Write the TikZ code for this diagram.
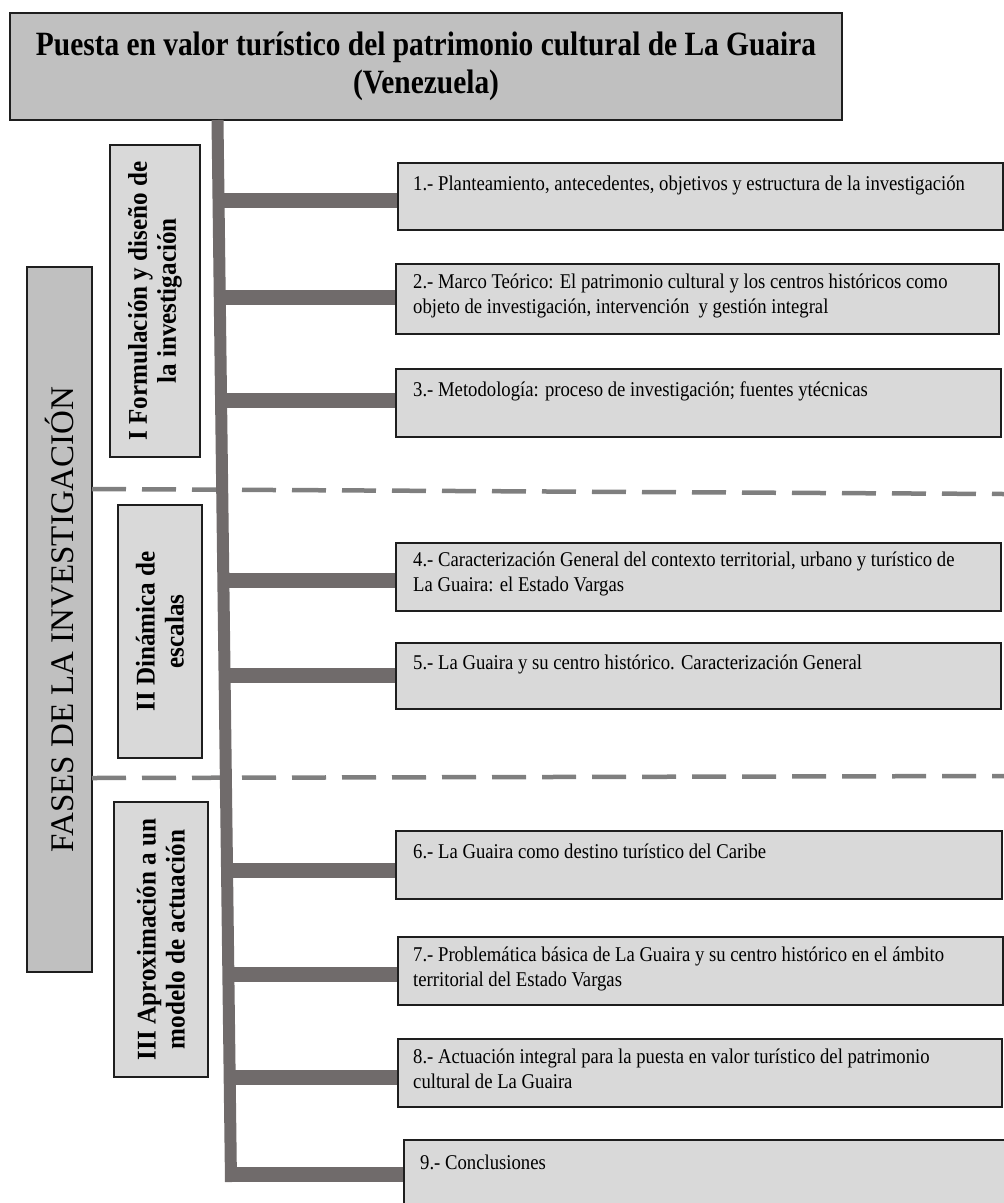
\documentclass[tikz,border=0pt]{standalone}
\usepackage{fontspec}
\setmainfont{Liberation Serif}
\newfontfamily\titlefont[FakeStretch=0.865]{Liberation Serif}
\newfontfamily\boxfont[FakeStretch=0.89]{Liberation Serif}
\newfontfamily\phasefont[FakeStretch=0.93]{Liberation Serif}
\definecolor{titlegray}{HTML}{C0C0C0}
\definecolor{boxgray}{HTML}{D9D9D9}
\definecolor{trunkgray}{HTML}{706B6B}
\definecolor{dashgray}{HTML}{7F7F7F}
\definecolor{edge}{HTML}{1E1E1E}
\tikzset{
  titlebox/.style={draw=edge, line width=2pt, fill=titlegray, minimum width=832, minimum height=107,
    inner sep=0pt, align=center, font=\titlefont\fontsize{34}{38}\selectfont\bfseries},
  fasesbox/.style={draw=edge, line width=2pt, fill=titlegray, rotate=90, inner sep=0pt,
    font=\fontsize{33}{36}\selectfont},
  phasebox/.style={draw=edge, line width=2pt, fill=boxgray, rotate=90, inner sep=0pt, align=center,
    font=\phasefont\fontsize{27}{29}\selectfont\bfseries},
  cbox/.style={draw=edge, line width=2pt, fill=boxgray, anchor=north west, inner sep=0pt},
  ctext/.style={anchor=north west, align=left, inner sep=0pt, font=\boxfont\fontsize{21}{25}\selectfont,
    execute at begin node=\strut},
  trunk/.style={draw=trunkgray, line width=12pt},
  branch/.style={draw=trunkgray, line width=15pt},
  phaseline/.style={draw=dashgray, line width=4.5pt, dash pattern=on 34pt off 16pt},
}
\begin{document}
\begin{tikzpicture}[x=1pt,y=-1pt]
\useasboundingbox (0,0) rectangle (1004,1203);
\clip (0,0) rectangle (1004,1203);

% title and phase labels
\node[titlebox] (title) at (426,66.5) {Puesta en valor turístico del patrimonio cultural de La Guaira\\(Venezuela)};
\node[fasesbox, minimum width=705, minimum height=65] (fases) at (59.5,619.5) {FASES DE LA INVESTIGACIÓN};

% dashed phase separators
\coordinate (d1a) at (92,489);
\coordinate (d1b) at (1004,494);
\coordinate (d2a) at (92,778);
\coordinate (d2b) at (1004,776);
\draw[phaseline] (d1a) -- (d1b);
\draw[phaseline] (d2a) -- (d2b);

% content boxes
\node[cbox, minimum width=605, minimum height=67] (b1) at (397,162) {};
\node[cbox, minimum width=603, minimum height=70] (b2) at (395,263) {};
\node[cbox, minimum width=605, minimum height=68] (b3) at (395,368) {};
\node[cbox, minimum width=605, minimum height=68] (b4) at (395,542) {};
\node[cbox, minimum width=605, minimum height=66] (b5) at (395,642) {};
\node[cbox, minimum width=606, minimum height=68] (b6) at (395,830) {};
\node[cbox, minimum width=605, minimum height=68] (b7) at (397,936) {};
\node[cbox, minimum width=604, minimum height=68] (b8) at (397,1038) {};
\node[cbox, minimum width=640, minimum height=120] (b9) at (403,1139) {};

% trunk and branches
\coordinate (ttop) at (217.5,120);
\coordinate (tbot) at (231,1182);
\coordinate (j1) at (218.5,200);
\coordinate (j2) at (219.8,297.5);
\coordinate (j3) at (221.1,400);
\coordinate (j4) at (223.3,580);
\coordinate (j5) at (224.6,675);
\coordinate (j6) at (227.0,870);
\coordinate (j7) at (228.4,974);
\coordinate (j8) at (229.7,1077);
\coordinate (j9) at (230.9,1174.5);
\draw[trunk] (ttop) -- (tbot);
\foreach \i in {1,...,9}{
  \draw[branch] (j\i) -- (j\i -| b\i.west);
}

% phase boxes
\node[phasebox, minimum width=312, minimum height=90] (p1) at (155,301) {I Formulación y diseño de\\la investigación};
\node[phasebox, minimum width=253, minimum height=84] (p2) at (160,631.5) {II Dinámica de\\escalas};
\node[phasebox, minimum width=275, minimum height=94] (p3) at (161,939.5) {III Aproximación a un\\modelo de actuación};

% texts
\node[ctext] (t1) at (413,172.5) {1.- Planteamiento, antecedentes, objetivos y estructura de la investigación};
\node[ctext] (t2) at (413,273.5) {2.- Marco Teórico: El patrimonio cultural y los centros históricos como\\objeto de investigación, intervención\ \ y gestión integral};
\node[ctext] (t3) at (413,378.5) {3.- Metodología: proceso de investigación; fuentes ytécnicas};
\node[ctext] (t4) at (413,551.5) {4.- Caracterización General del contexto territorial, urbano y turístico de\\La Guaira: el Estado Vargas};
\node[ctext] (t5) at (413,651.5) {5.- La Guaira y su centro histórico. Caracterización General};
\node[ctext] (t6) at (413,840.5) {6.- La Guaira como destino turístico del Caribe};
\node[ctext] (t7) at (413,946.5) {7.- Problemática básica de La Guaira y su centro histórico en el ámbito\\territorial del Estado Vargas};
\node[ctext] (t8) at (413,1048.5) {8.- Actuación integral para la puesta en valor turístico del patrimonio\\cultural de La Guaira};
\node[ctext] (t9) at (420,1151.5) {9.- Conclusiones};
\end{tikzpicture}
\end{document}
